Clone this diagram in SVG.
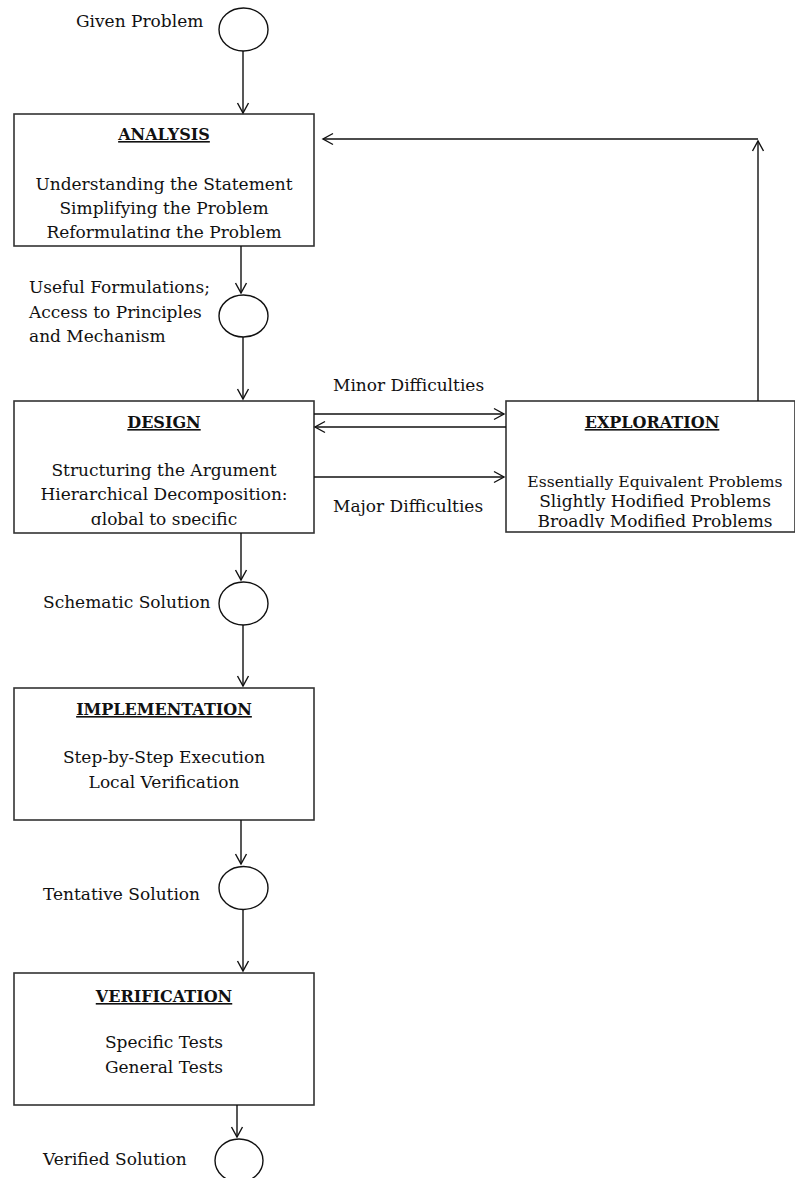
<svg xmlns="http://www.w3.org/2000/svg" width="795" height="1178" viewBox="0 0 795 1178">
<style>
.box{fill:#fff;stroke:#333;stroke-width:1.6}
.node{fill:#fff;stroke:#111;stroke-width:1.4}
.t{font-family:"DejaVu Serif","Liberation Serif",serif;font-size:17px;fill:#111}
.c{text-anchor:middle}
.h{font-weight:bold;font-size:16px;text-decoration:underline}
.s{font-size:15.6px}
.con{stroke:#111;stroke-width:1.4;fill:none;marker-end:url(#ah)}
</style>
<defs>
<marker id="ah" markerUnits="userSpaceOnUse" markerWidth="14" markerHeight="14" viewBox="-12 -7 14 14" refX="0" refY="0" orient="auto">
<path d="M-10,-5.5 L0,0 L-10,5.5" fill="none" stroke="#111" stroke-width="1.4"/>
</marker>
<clipPath id="cA"><rect x="14" y="114" width="300" height="124"/></clipPath>
<clipPath id="cD"><rect x="14" y="401" width="300" height="124"/></clipPath>
<clipPath id="cE"><rect x="506" y="401" width="289" height="127"/></clipPath>
</defs>
<g id="given">
<ellipse class="node" cx="243.5" cy="29.5" rx="24.5" ry="21.5"/>
<text class="t" x="76" y="27">Given Problem</text>
</g>
<g id="analysis">
<rect class="box" x="14" y="114" width="300" height="132"/>
<g clip-path="url(#cA)">
<text class="t c h" x="164" y="140">ANALYSIS</text>
<text class="t c" x="164" y="190">Understanding the Statement</text>
<text class="t c" x="164" y="214">Simplifying the Problem</text>
<text class="t c" x="164" y="238">Reformulating the Problem</text>
</g>
</g>
<g id="formulations">
<ellipse class="node" cx="243.5" cy="316" rx="24.5" ry="21"/>
<text class="t" x="29" y="293">Useful Formulations;</text>
<text class="t" x="29" y="318">Access to Principles</text>
<text class="t" x="29" y="342">and Mechanism</text>
</g>
<g id="design">
<rect class="box" x="14" y="401" width="300" height="132"/>
<g clip-path="url(#cD)">
<text class="t c h" x="164" y="428">DESIGN</text>
<text class="t c" x="164" y="476">Structuring the Argument</text>
<text class="t c" x="164" y="500">Hierarchical Decomposition:</text>
<text class="t c" x="164" y="525">global to specific</text>
</g>
</g>
<g id="exploration">
<rect class="box" x="506" y="401" width="289" height="131"/>
<g clip-path="url(#cE)">
<text class="t c h" x="652" y="428">EXPLORATION</text>
<text class="t c s" x="655" y="487">Essentially Equivalent Problems</text>
<text class="t c" x="655" y="507">Slightly Hodified Problems</text>
<text class="t c" x="655" y="527">Broadly Modified Problems</text>
</g>
</g>
<g id="schematic">
<ellipse class="node" cx="243.5" cy="603.5" rx="24.5" ry="21.5"/>
<text class="t" x="43" y="608">Schematic Solution</text>
</g>
<g id="implementation">
<rect class="box" x="14" y="688" width="300" height="132"/>
<text class="t c h" x="164" y="715">IMPLEMENTATION</text>
<text class="t c" x="164" y="763">Step-by-Step Execution</text>
<text class="t c" x="164" y="788">Local Verification</text>
</g>
<g id="tentative">
<ellipse class="node" cx="243.5" cy="888" rx="24.5" ry="21.5"/>
<text class="t" x="43" y="900">Tentative Solution</text>
</g>
<g id="verification">
<rect class="box" x="14" y="973" width="300" height="132"/>
<text class="t c h" x="164" y="1002">VERIFICATION</text>
<text class="t c" x="164" y="1048">Specific Tests</text>
<text class="t c" x="164" y="1073">General Tests</text>
</g>
<g id="verified">
<ellipse class="node" cx="239" cy="1160.5" rx="24" ry="21.5"/>
<text class="t" x="43" y="1165">Verified Solution</text>
</g>
<g id="connectors">
<line class="con" x1="243" y1="51" x2="243" y2="113"/>
<line class="con" x1="241" y1="246" x2="241" y2="293"/>
<line class="con" x1="243" y1="337" x2="243" y2="399"/>
<line class="con" x1="314" y1="414" x2="504" y2="414"/>
<line class="con" x1="506" y1="427" x2="315" y2="427"/>
<line class="con" x1="314" y1="477" x2="504" y2="477"/>
<line class="con" x1="758" y1="401" x2="758" y2="141"/>
<line class="con" x1="758" y1="139" x2="323" y2="139"/>
<line class="con" x1="241" y1="533" x2="241" y2="580"/>
<line class="con" x1="243" y1="625" x2="243" y2="686"/>
<line class="con" x1="241" y1="820" x2="241" y2="864"/>
<line class="con" x1="243" y1="909" x2="243" y2="971"/>
<line class="con" x1="237" y1="1105" x2="237" y2="1137"/>
<text class="t" x="333" y="391">Minor Difficulties</text>
<text class="t" x="333" y="512">Major Difficulties</text>
</g>
</svg>
